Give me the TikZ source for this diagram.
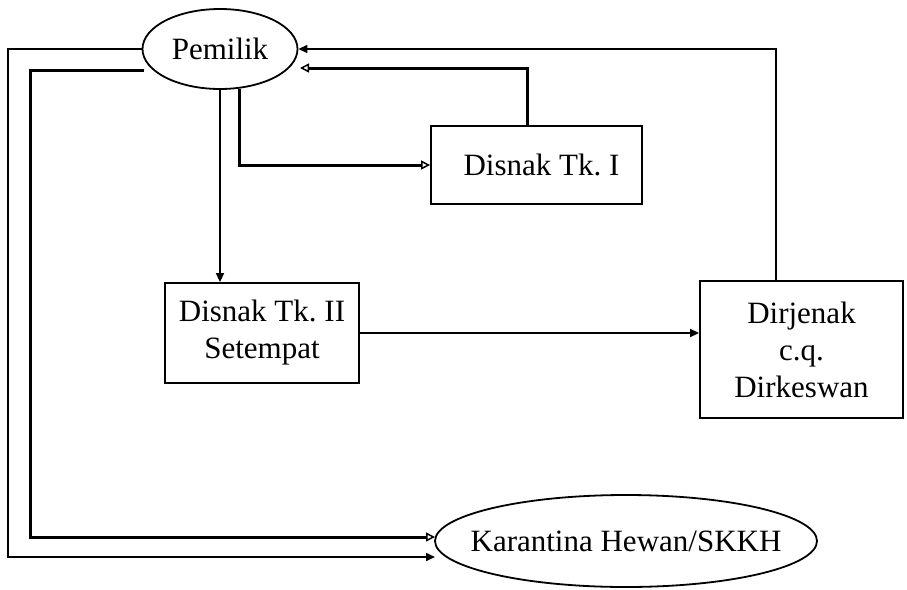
\documentclass[tikz,border=0pt]{standalone}
\usepackage{fontspec}
\setmainfont{Liberation Serif}
\usetikzlibrary{arrows.meta,shapes.geometric}
\begin{document}
\begin{tikzpicture}[x=1pt,y=-1pt,
  every node/.style={font=\fontsize{31}{37}\selectfont},
  oval/.style={draw,ellipse,line width=1.8pt,inner sep=0pt},
  box/.style={draw,rectangle,line width=1.8pt,inner sep=0pt,align=center},
  thin/.style={line width=1.5pt,-{Triangle[length=9pt,width=8pt]}},
  thick/.style={line width=3pt,-{Triangle[open,length=9pt,width=9pt,line width=1.5pt]}}]
\useasboundingbox (0,0) rectangle (907,589);

% nodes
\node[oval,minimum width=155pt,minimum height=80pt] (pem) at (220,49) {Pemilik};
\node[box,minimum width=211pt,minimum height=78pt] (d1) at (536.5,165) {\hspace*{10pt}Disnak Tk.\ I};
\node[box,minimum width=194pt,minimum height=100pt] (d2) at (262,333) {Disnak Tk.\ II\\Setempat};
\node[box,minimum width=203pt,minimum height=137pt] (dj) at (801.5,349.5) {Dirjenak\\c.q.\\Dirkeswan};
\node[oval,inner xsep=-30pt,minimum width=382pt,minimum height=92pt] (kh) at (626,541) {Karantina Hewan/SKKH};

% free ends of connectors
\coordinate (pr) at (300,68);
\coordinate (pl) at (144,70);
\coordinate (k1) at (435,537);
\coordinate (k2) at (435,557);

% Pemilik -> Disnak Tk. II
\draw[thin] (pem.south) -- (pem.south |- d2.north);
% Pemilik -> Disnak Tk. I
\draw[thick] (pem.-64) |- (d1.west);
% Disnak Tk. I -> Pemilik
\draw[thick] ([xshift=-9.5pt]d1.north) |- (pr);
% Disnak Tk. II -> Dirjenak
\draw[thin] (d2.east) -- (d2.east -| dj.west);
% Dirjenak -> Pemilik
\draw[thin] (dj.north -| 776,0) |- (pem.east);
% Pemilik -> Karantina (outer, thin)
\draw[thin] (pem.west) -| (8,557) -- (k2);
% Pemilik -> Karantina (inner, thick)
\draw[thick] (pl) -| (30,537) -- (k1);
\end{tikzpicture}
\end{document}
